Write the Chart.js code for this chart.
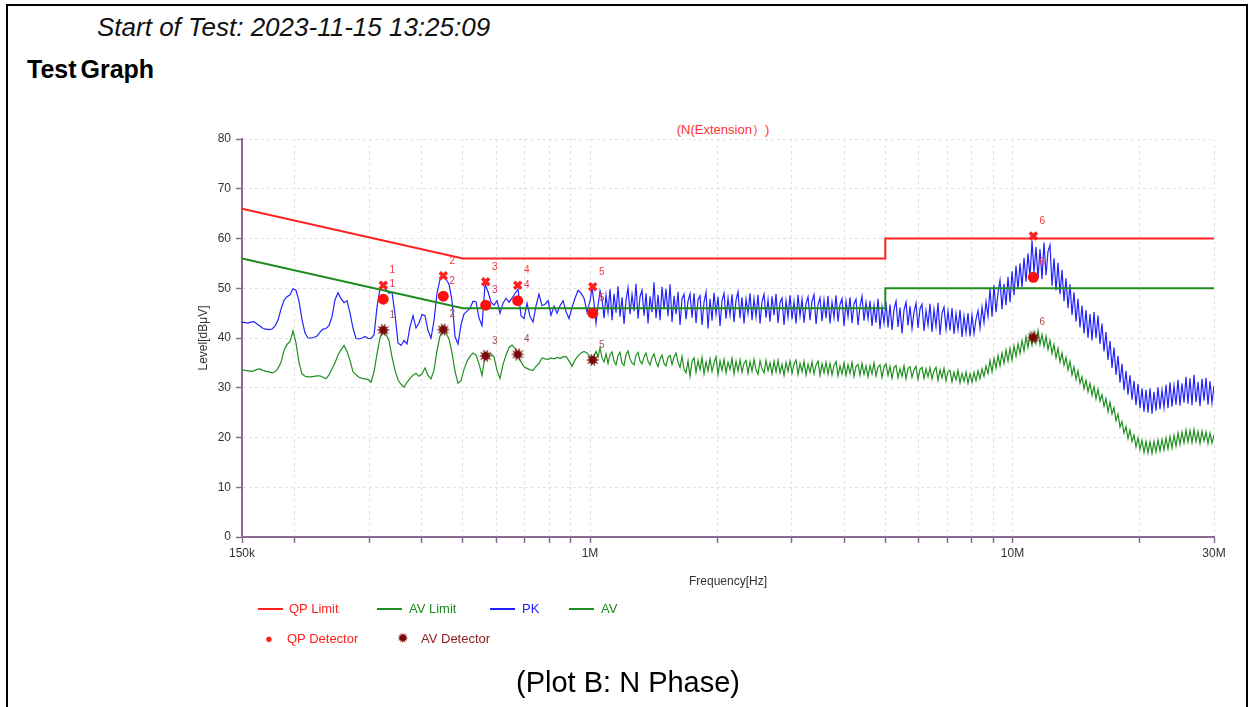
<!DOCTYPE html>
<html>
<head>
<meta charset="utf-8">
<script src="https://cdn.jsdelivr.net/npm/chart.js@4.4.0/dist/chart.umd.min.js"></script>
<style>
  body { margin: 0; background: #fff; font-family: "Liberation Sans", Arial, sans-serif; }
  #pagina { position: relative; width: 1250px; height: 707px; overflow: hidden; }
  #moldura { position: absolute; left: 6px; top: 4px; width: 1242px; height: 760px; border: 2px solid #000; box-sizing: border-box; }
  #grafico { position: absolute; left: 0; top: 0; }
  .txt { position: absolute; white-space: nowrap; line-height: 1; }
  .linha { position: absolute; height: 2px; }
</style>
</head>
<body>
<div id="pagina">
  <div id="moldura"></div>
  <div class="txt" style="left:97px; top:14px; font-size:26px; font-style:italic; color:#111;">Start of Test: 2023-11-15 13:25:09</div>
  <div class="txt" style="left:27px; top:57px; font-size:25px; font-weight:bold; color:#000; word-spacing:-3px;">Test Graph</div>
  <div class="txt" style="left:723px; top:123px; font-size:13px; color:#ff3333; transform:translateX(-50%);">(N(Extension）)</div>
  <canvas id="grafico" width="1250" height="707"></canvas>

  <!-- legenda -->
  <div class="linha" style="left:258px; top:608px; width:25px; background:#ff2020;"></div>
  <div class="txt" style="left:289px; top:602px; font-size:13px; color:#ff2020;">QP Limit</div>
  <div class="linha" style="left:377px; top:608px; width:25px; background:#1e8c1e;"></div>
  <div class="txt" style="left:409px; top:602px; font-size:13px; color:#1e8c1e;">AV Limit</div>
  <div class="linha" style="left:490px; top:608px; width:25px; background:#2020ff;"></div>
  <div class="txt" style="left:522px; top:602px; font-size:13px; color:#2020ff;">PK</div>
  <div class="linha" style="left:569px; top:608px; width:25px; background:#1e8c1e;"></div>
  <div class="txt" style="left:601px; top:602px; font-size:13px; color:#1e8c1e;">AV</div>
  <div class="txt" style="left:265px; top:632px; font-size:13px; color:#ff2020;">&#9679;</div>
  <div class="txt" style="left:287px; top:632px; font-size:13px; color:#ff2020;">QP Detector</div>
  <div class="txt" style="left:397px; top:631px; font-size:14px; color:#7a0a0a;">&#10041;</div>
  <div class="txt" style="left:421px; top:632px; font-size:13px; color:#8b2020;">AV Detector</div>

  <div class="txt" style="left:628px; top:668px; font-size:29px; color:#000; transform:translateX(-50%);">(Plot B: N Phase)</div>
</div>

<script>
// Limites (frequência em Hz / nível em dBµV)
const qpLimitFreq = [150e3, 500e3, 5e6, 5e6, 30e6];
const qpLimitLevel = [66, 56, 56, 60, 60];
const avLimitFreq = [150e3, 500e3, 5e6, 5e6, 30e6];
const avLimitLevel = [56, 46, 46, 50, 50];

// Varredura baixa: 150k -> 1M (pontos igualmente espaçados em log)
const lowStart = 150e3, lowStop = 1e6;
const pkLow = [
  43.2, 43.1, 43.0, 43.2, 43.3, 42.8, 42.4, 41.9, 41.8, 41.7,
  41.8, 42.4, 43.6, 45.8, 47.6, 48.3, 48.7, 49.9, 49.6, 47.4,
  43.7, 41.0, 40.0, 40.0, 40.1, 40.4, 41.2, 41.8, 41.9, 42.5,
  44.3, 47.7, 49.1, 47.9, 47.1, 47.5, 45.0, 42.0, 39.9, 39.8,
  40.0, 40.3, 39.9, 39.9, 40.6, 46.2, 50.0, 50.6, 49.8, 49.0,
  49.2, 44.8, 39.0, 38.5, 39.5, 38.8, 42.3, 44.5, 42.0, 43.0,
  44.7, 44.5, 41.5, 40.0, 43.5, 49.0, 51.8, 52.3, 51.8, 50.8,
  47.5, 40.3, 38.8, 42.7, 44.8, 45.4, 46.0, 47.4, 47.3, 44.0,
  42.5, 50.8, 49.3, 47.2, 46.6, 47.5, 45.0, 47.0, 48.0, 47.2,
  48.0, 49.0, 49.8, 44.5, 43.9, 47.0, 44.3, 43.2, 46.5, 48.8,
  46.5, 46.8, 47.5, 44.6, 46.4, 45.0, 46.5, 47.5, 45.3, 43.9,
  46.2, 48.0, 49.6, 49.0, 48.0, 45.2, 47.5
];
const avLow = [
  33.6, 33.5, 33.4, 33.3, 33.4, 33.7, 33.8, 33.5, 33.3, 33.2,
  33.0, 33.2, 33.9, 35.1, 37.5, 38.7, 39.3, 41.4, 39.0, 35.1,
  32.8, 32.3, 32.2, 32.2, 32.3, 32.4, 32.4, 32.1, 31.8, 32.6,
  33.8, 35.0, 36.6, 37.6, 38.5, 37.3, 35.5, 33.2, 32.6, 32.1,
  31.9, 31.8, 31.7, 31.1, 33.2, 36.8, 40.0, 41.6, 40.8, 39.4,
  36.2, 33.5, 31.6, 30.7, 30.1, 31.1, 31.9, 32.5, 32.9, 32.3,
  32.8, 34.0, 32.5, 31.8, 33.5, 37.5, 40.4, 41.6, 41.0, 39.8,
  37.0, 33.3, 30.9, 31.4, 33.7, 35.3, 36.3, 37.0, 36.6, 34.8,
  32.5, 36.3, 36.9, 36.8, 36.2, 33.5, 31.9, 34.7, 36.6, 38.1,
  38.6, 37.9, 36.6, 35.2, 34.2, 33.9, 33.6, 33.5, 34.3, 34.9,
  36.0, 35.8, 35.7, 36.0, 35.8, 36.1, 35.9, 36.2, 36.3, 35.4,
  34.3, 35.6, 36.4, 37.0, 37.3, 37.0, 36.2
];

// Varredura alta: 1M -> 30M
const highStart = 1e6, highStop = 30e6;
const pkHigh = [
  47.4, 50.2, 47.0, 43.0, 46.5, 49.5, 47.8, 44.0, 48.6, 45.2,
  49.8, 43.6, 48.9, 45.1, 50.4, 44.3, 48.2, 42.8, 47.6, 50.1,
  44.8, 48.7, 45.4, 50.9, 43.9, 48.3, 49.6, 44.5, 49.0, 42.9,
  48.4, 45.2, 51.2, 44.0, 48.7, 43.6, 50.3, 45.8, 49.9, 44.4,
  50.8, 43.2, 48.5, 44.8, 49.3, 42.6, 47.9, 48.8, 43.8, 47.4,
  48.9, 44.1, 49.0, 43.0, 47.7, 48.5, 42.6, 47.2, 49.2, 41.9,
  47.9, 43.5, 49.1, 44.8, 48.3, 42.4, 47.5, 49.0, 43.9, 48.0,
  44.6, 48.8, 43.2, 47.6, 49.3, 44.0, 48.2, 42.9, 47.8, 44.9,
  49.0, 43.6, 47.9, 44.3, 48.7, 42.9, 47.3, 48.8, 44.1, 47.7,
  43.3, 48.4, 44.6, 48.9, 43.0, 47.1, 48.0, 42.6, 47.5, 44.2,
  48.6, 43.8, 47.3, 42.9, 48.7, 44.4, 47.8, 43.1, 46.9, 48.3,
  43.6, 47.4, 48.7, 42.8, 46.7, 48.1, 43.4, 47.6, 44.0, 48.5,
  42.9, 47.2, 44.1, 48.6, 43.3, 46.8, 47.9, 42.4, 47.4, 44.3,
  48.2, 43.0, 46.9, 47.8, 42.6, 46.4, 48.4, 43.5, 47.1, 43.9,
  47.5, 42.4, 46.6, 43.1, 47.9, 41.8, 46.2, 43.0, 47.3, 42.1,
  46.7, 41.6, 45.8, 47.4, 42.2, 46.1, 40.9, 45.6, 47.2, 42.5,
  46.4, 41.9, 45.2, 47.0, 42.0, 45.9, 46.8, 41.4, 45.5, 42.6,
  46.9, 41.2, 45.7, 42.3, 47.1, 40.6, 45.0, 46.2, 41.8, 45.4,
  41.5, 46.0, 40.8, 44.9, 41.7, 45.6, 40.2, 44.4, 41.1, 45.0,
  40.3, 44.6, 40.9, 43.8, 45.5, 42.0, 46.2, 43.1, 47.3, 44.4,
  49.9, 44.3, 50.6, 45.2, 49.1, 51.6, 45.8, 50.9, 46.6, 52.3,
  47.2, 53.4, 48.6, 54.5, 49.8, 55.0, 50.2, 56.1, 51.3, 57.0,
  52.2, 59.6, 53.1, 58.3, 52.0, 57.9, 51.8, 59.2, 52.6, 57.4,
  58.7, 50.5, 56.0, 49.6, 55.1, 48.8, 53.7, 47.4, 52.0, 46.0,
  50.8, 44.6, 49.2, 43.3, 47.9, 42.1, 46.5, 40.9, 45.6, 40.0,
  44.8, 39.5, 45.2, 40.0, 44.5, 38.8, 42.9, 37.3, 41.2, 35.6,
  39.4, 34.0, 38.1, 32.6, 36.4, 31.0, 34.8, 29.5, 33.4, 28.6,
  32.5, 27.6, 31.4, 26.5, 30.8, 25.9, 29.9, 25.2, 29.6, 25.0,
  29.9, 24.8, 29.2, 25.4, 30.1, 25.7, 29.5, 26.0, 30.6, 25.9,
  31.1, 26.2, 30.4, 26.6, 31.6, 26.4, 30.9, 27.0, 32.2, 26.8,
  31.9, 26.5, 32.6, 27.1, 31.2, 26.3, 31.8, 27.4, 32.0, 26.6,
  31.3, 27.0, 30.4
];
const avHigh = [
  36.0, 35.0, 36.4, 37.3, 36.2, 38.0, 36.0, 35.2, 36.8, 34.9,
  36.7, 37.2, 35.3, 34.6, 36.5, 37.1, 34.9, 34.5, 36.7, 37.4,
  35.8, 35.0, 34.6, 36.6, 37.1, 35.4, 34.8, 36.2, 37.0, 35.3,
  34.6, 36.1, 36.8, 35.2, 34.3, 35.8, 36.6, 34.9, 34.4, 36.1,
  36.5, 34.7, 36.2, 37.0, 35.1, 34.1, 36.3, 33.7, 33.0, 35.4,
  32.3, 35.3, 36.0, 33.1, 35.5, 33.6, 36.1, 32.8, 35.2, 33.4,
  35.8, 33.3, 35.0, 36.2, 32.7, 35.4, 33.5, 35.7, 33.0, 35.1,
  33.7, 35.9, 32.8, 35.3, 33.4, 35.6, 33.1, 34.9, 35.5, 32.9,
  35.2, 33.3, 35.7, 33.6, 32.7, 35.4, 33.8, 33.0, 35.5, 33.4,
  35.0, 32.8, 35.3, 33.2, 35.5, 33.0, 34.7, 32.5, 35.1, 33.3,
  35.4, 32.9, 34.8, 35.6, 32.7, 34.9, 33.2, 35.3, 32.6, 34.7,
  33.1, 35.2, 32.8, 34.6, 35.4, 32.5, 34.8, 33.0, 35.1, 32.7,
  34.9, 32.6, 34.5, 35.3, 32.4, 34.4, 32.8, 35.0, 32.5, 34.6,
  32.9, 35.1, 32.3, 34.3, 34.7, 32.5, 34.9, 32.7, 34.4, 32.2,
  34.5, 32.8, 35.0, 32.4, 34.1, 34.6, 32.1, 34.2, 34.8, 32.5,
  34.3, 31.9, 34.0, 34.5, 32.0, 33.8, 32.3, 34.4, 31.8, 33.9,
  34.2, 32.1, 33.6, 34.3, 31.7, 33.7, 34.1, 31.9, 33.8, 32.2,
  34.0, 31.8, 33.4, 34.1, 31.5, 33.6, 32.0, 33.9, 31.4, 33.3,
  33.5, 31.2, 33.1, 31.6, 33.5, 31.0, 32.9, 31.3, 33.2, 30.9,
  32.8, 31.1, 33.1, 31.4, 33.4, 31.8, 33.8, 32.3, 34.4, 32.9,
  35.5, 33.2, 35.9, 34.0, 36.5, 34.4, 37.0, 34.9, 37.6, 35.3,
  37.9, 35.6, 38.4, 36.3, 38.8, 36.9, 39.5, 37.4, 40.2, 38.1,
  40.9, 38.6, 41.2, 39.0, 41.5, 38.7, 40.7, 38.3, 40.3, 37.7,
  39.5, 36.9, 38.7, 36.0, 37.9, 35.2, 37.0, 34.5, 36.1, 33.6,
  35.3, 32.6, 34.2, 31.7, 33.4, 30.9, 32.2, 29.8, 31.5, 29.2,
  30.9, 28.5, 30.2, 27.8, 29.7, 27.3, 28.6, 26.3, 27.8, 25.2,
  27.1, 24.7, 26.0, 23.4, 24.7, 22.1, 23.2, 20.9, 22.2, 19.8,
  21.5, 19.2, 20.5, 18.1, 19.9, 17.6, 19.4, 17.0, 19.2, 16.9,
  19.1, 16.8, 19.2, 17.1, 19.5, 17.3, 19.6, 17.5, 19.9, 17.7,
  20.2, 17.9, 20.4, 18.3, 20.9, 18.6, 21.1, 18.9, 21.5, 19.1,
  21.4, 19.0, 21.6, 19.2, 21.2, 18.8, 21.3, 19.3, 21.1, 18.8,
  20.9, 18.9, 20.5
];

// Marcadores (pontos finais medidos)
const markFreq = [324.0e3, 449.4e3, 566.2e3, 674.2e3, 1.0148e6, 11.205e6];
const pkMarks = [50.6, 52.5, 51.3, 50.6, 50.3, 60.5];
const qpMarks = [47.8, 48.4, 46.6, 47.5, 45.0, 52.2];
const avMarks = [41.6, 41.7, 36.4, 36.7, 35.6, 40.1];

// Eixos
const xTicks = [150e3, 200e3, 300e3, 400e3, 500e3, 600e3, 700e3, 800e3, 900e3,
  1e6, 2e6, 3e6, 4e6, 5e6, 6e6, 7e6, 8e6, 9e6, 10e6, 20e6, 30e6];
const xTickLabels = { 150000: '150k', 1000000: '1M', 10000000: '10M', 30000000: '30M' };

function varredura(valores, f0, f1) {
  const n = valores.length - 1;
  return valores.map((v, i) => ({ x: f0 * Math.pow(f1 / f0, i / n), y: v }));
}
function pares(freqs, niveis) {
  return freqs.map((f, i) => ({ x: f, y: niveis[i] }));
}
function estrela(r, cor) {
  const c = document.createElement('canvas');
  c.width = c.height = r * 2 + 2;
  const g = c.getContext('2d');
  g.translate(r + 1, r + 1);
  g.beginPath();
  const n = 10;
  for (let k = 0; k < n * 2; k++) {
    const rr = k % 2 ? r * 0.5 : r;
    const a = k * Math.PI / n;
    g.lineTo(rr * Math.cos(a), rr * Math.sin(a));
  }
  g.closePath();
  g.fillStyle = cor;
  g.fill();
  return c;
}

// Numeração dos marcadores
const rotulos = {
  id: 'rotulos',
  afterDatasetsDraw(chart) {
    const ctx = chart.ctx;
    chart.data.datasets.forEach((ds, i) => {
      if (!ds.corRotulo) return;
      const meta = chart.getDatasetMeta(i);
      ctx.save();
      ctx.font = '10px "Liberation Sans", Arial, sans-serif';
      ctx.fillStyle = ds.corRotulo;
      ctx.textAlign = 'center';
      ctx.textBaseline = 'middle';
      meta.data.forEach((el, j) => ctx.fillText(String(j + 1), el.x + 9, el.y - 15));
      ctx.restore();
    });
  }
};

Chart.defaults.font.family = '"Liberation Sans", Arial, sans-serif';
const corEixo = '#8c6b93';

const ctx = document.getElementById('grafico').getContext('2d');
new Chart(ctx, {
  type: 'line',
  data: {
    datasets: [
      { label: 'PK Marks', data: pares(markFreq, pkMarks), showLine: false, order: 0,
        pointStyle: 'crossRot', pointRadius: 5, borderWidth: 3.5, borderColor: '#ff2020', backgroundColor: '#ff2020', corRotulo: '#ff3030' },
      { label: 'QP Detector', data: pares(markFreq, qpMarks), showLine: false, order: 0,
        pointStyle: 'circle', pointRadius: 5.5, borderWidth: 0, backgroundColor: '#ff1010', borderColor: '#ff1010', corRotulo: '#e83050' },
      { label: 'AV Detector', data: pares(markFreq, avMarks), showLine: false, order: 0,
        pointStyle: estrela(7, '#7a0a0a'), pointRadius: 7, borderWidth: 0, backgroundColor: '#7a0a0a', corRotulo: '#a05048' },
      { label: 'QP Limit', data: pares(qpLimitFreq, qpLimitLevel), order: 1,
        borderColor: '#ff2020', borderWidth: 2, pointRadius: 0 },
      { label: 'AV Limit', data: pares(avLimitFreq, avLimitLevel), order: 1,
        borderColor: '#1e8c1e', borderWidth: 2, pointRadius: 0 },
      { label: 'PK', data: varredura(pkLow, lowStart, lowStop).concat(varredura(pkHigh, highStart, highStop)), order: 2,
        borderColor: '#2222ff', borderWidth: 1.2, pointRadius: 0 },
      { label: 'AV', data: varredura(avLow, lowStart, lowStop).concat(varredura(avHigh, highStart, highStop)), order: 3,
        borderColor: '#1f8f1f', borderWidth: 1.2, pointRadius: 0 }
    ]
  },
  options: {
    responsive: false,
    animation: false,
    layout: { padding: { left: 192, top: 139, right: 36, bottom: 114 } },
    plugins: { legend: { display: false }, tooltip: { enabled: false } },
    scales: {
      x: {
        type: 'logarithmic', min: 150e3, max: 30e6,
        afterBuildTicks: s => { s.ticks = xTicks.map(v => ({ value: v })); },
        afterFit: s => { s.height = 56; },
        ticks: { autoSkip: false, maxRotation: 0, padding: 3, color: '#333', font: { size: 12 },
          callback: v => xTickLabels[v] || '' },
        grid: { color: '#e2e2e2', tickColor: corEixo, tickLength: 6, tickWidth: 1.5 },
        border: { color: corEixo, width: 2, dash: [3, 3] },
        title: { display: true, text: 'Frequency[Hz]', color: '#333', font: { size: 12 } }
      },
      y: {
        min: 0, max: 80,
        afterFit: s => { s.width = 50; },
        ticks: { stepSize: 10, padding: 5, color: '#333', font: { size: 12 } },
        grid: { color: '#e2e2e2', tickColor: corEixo, tickLength: 6, tickWidth: 1.5 },
        border: { color: corEixo, width: 2, dash: [3, 3] },
        title: { display: true, text: 'Level[dBμV]', color: '#333', font: { size: 12 } }
      }
    }
  },
  plugins: [rotulos]
});
</script>
</body>
</html>
